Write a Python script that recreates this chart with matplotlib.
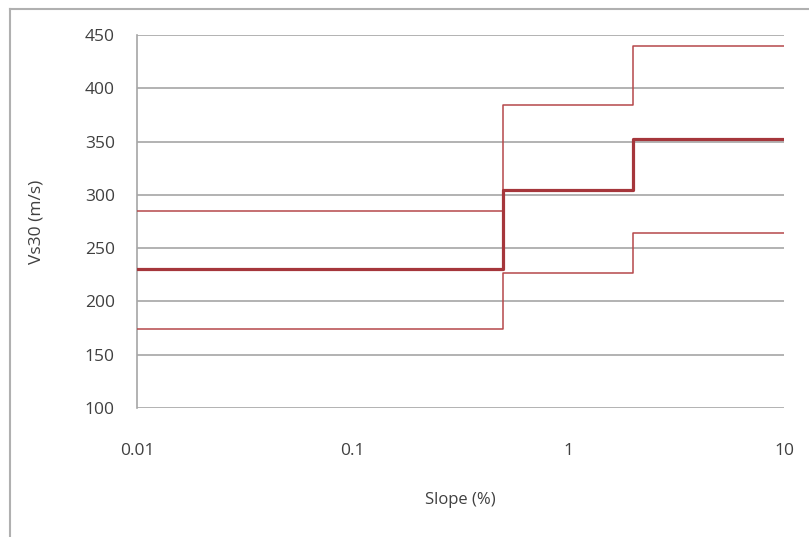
import matplotlib
matplotlib.use("Agg")
import matplotlib.pyplot as plt
from matplotlib.lines import Line2D
from matplotlib.ticker import FixedLocator, FixedFormatter, NullLocator

# Data
slope_edges = [0.01, 0.5, 2, 10]
vs30_median = [230, 305, 352]
vs30_upper = [285, 384, 440]
vs30_lower = [174, 227, 264]
x_ticks = [0.01, 0.1, 1, 10]
x_tick_labels = ["0.01", "0.1", "1", "10"]
y_ticks = [100, 150, 200, 250, 300, 350, 400, 450]

plt.rcParams['font.family'] = ['Open Sans', 'DejaVu Sans']
text_color = '#404040'

W, H = 809, 537
fig = plt.figure(figsize=(W / 100, H / 100), dpi=100)
ax = fig.add_axes([137 / W, 1 - 408 / H, (784 - 137) / W, (408 - 35) / H])

ax.set_xscale('log')
ax.set_xlim(0.01, 10)
ax.set_ylim(100, 450)

grid_color = '#a6a6a6'
for yv in y_ticks:
    ax.axhline(yv, color=grid_color, linewidth=1.2, zorder=1)

def stepped(vals):
    return list(vals) + [vals[-1]]

ax.step(slope_edges, stepped(vs30_upper), where='post', color='#b5484a', linewidth=1.1, zorder=3)
ax.step(slope_edges, stepped(vs30_lower), where='post', color='#b5484a', linewidth=1.1, zorder=3)
ax.step(slope_edges, stepped(vs30_median), where='post', color='#a5363b', linewidth=2.3, zorder=4)

for s in ['top', 'right', 'bottom']:
    ax.spines[s].set_visible(False)
ax.spines['left'].set_color(grid_color)
ax.spines['left'].set_linewidth(1.2)

ax.xaxis.set_major_locator(FixedLocator(x_ticks))
ax.xaxis.set_major_formatter(FixedFormatter(x_tick_labels))
ax.xaxis.set_minor_locator(NullLocator())
ax.set_yticks(y_ticks)
ax.tick_params(axis='both', length=0, labelsize=12.5, colors=text_color)
ax.tick_params(axis='x', pad=25)
ax.tick_params(axis='y', pad=16)

ax.set_xlabel('Slope (%)', fontsize=12, color=text_color, labelpad=24)
ax.set_ylabel('Vs30 (m/s)', fontsize=12.5, color=text_color, labelpad=29)

# Chart area border (top and left edges visible)
bx, by = 10 / W, 1 - 9 / H
fig.add_artist(Line2D([bx, 1.0], [by, by], transform=fig.transFigure, color='#b0b0b0', linewidth=1.5))
fig.add_artist(Line2D([bx, bx], [0.0, by], transform=fig.transFigure, color='#b0b0b0', linewidth=1.5))

fig.savefig('out.png', dpi=100)
